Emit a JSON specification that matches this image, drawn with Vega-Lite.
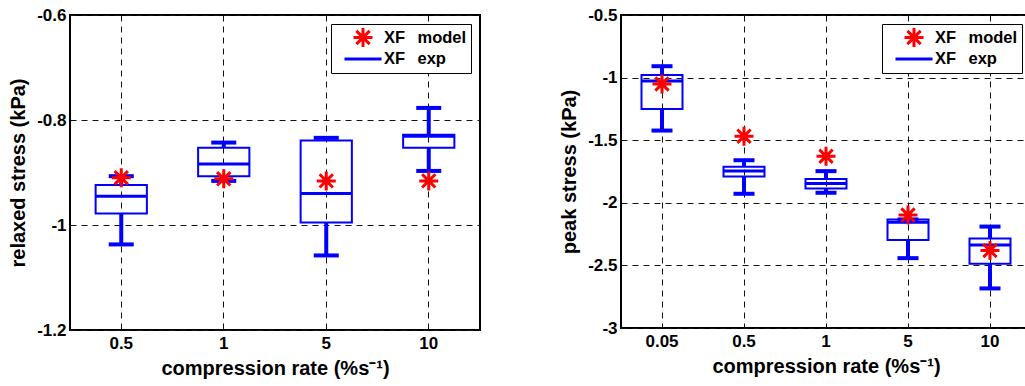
{
  "$schema": "https://vega.github.io/schema/vega-lite/v6.json",
  "background": "white",
  "padding": {"left": 7, "top": 5, "right": 0, "bottom": 0},
  "spacing": 77,
  "config": {
    "view": {"stroke": "black", "strokeWidth": 2},
    "axis": {
      "labelFont": "Liberation Sans", "labelFontWeight": "bold", "labelFontSize": 17, "labelColor": "black",
      "titleFont": "Liberation Sans", "titleFontWeight": "bold", "titleFontSize": 20, "titleColor": "black",
      "grid": true, "gridColor": "#111111", "gridDash": [6, 5], "gridWidth": 1, "gridOpacity": 1,
      "ticks": false, "domain": false
    },
    "axisX": {"labelPadding": 5, "titlePadding": 7, "labelAngle": 0, "bandPosition": 0.5},
    "axisY": {"labelPadding": 4, "titlePadding": 8, "format": "~g", "labelExpr": "replace(datum.label, '\u2212', '-')"},
    "legend": {
      "orient": "top-right", "offset": 9, "title": null,
      "labelFont": "Liberation Sans", "labelFontSize": 16.5, "labelFontWeight": "bold", "labelColor": "black",
      "symbolStrokeWidth": 3, "symbolSize": 361, "padding": 4, "rowPadding": 2.6, "clipHeight": 19,
      "labelOffset": 10, "symbolOffset": 17,
      "strokeColor": "black", "fillColor": "white"
    }
  },
  "resolve": {"scale": {"color": "independent", "shape": "independent"}, "legend": {"color": "independent", "shape": "independent"}},
  "hconcat": [
    {
      "width": 410, "height": 315,
      "data": {"values": [
        {"rate": "0.5", "wlo": -1.037, "q1": -0.978, "med": -0.945, "q3": -0.924, "whi": -0.907, "model": -0.910},
        {"rate": "1", "wlo": -0.916, "q1": -0.907, "med": -0.884, "q3": -0.853, "whi": -0.843, "model": -0.912},
        {"rate": "5", "wlo": -1.058, "q1": -0.995, "med": -0.940, "q3": -0.839, "whi": -0.834, "model": -0.916},
        {"rate": "10", "wlo": -0.897, "q1": -0.853, "med": -0.831, "q3": -0.828, "whi": -0.777, "model": -0.916}
      ]},
      "encoding": {
        "x": {"field": "rate", "type": "ordinal", "sort": ["0.5", "1", "5", "10"],
              "scale": {"type": "band", "paddingInner": 0, "paddingOuter": 0},
              "axis": {"title": "compression rate (%s\u207b\u00b9)"}}
      },
      "layer": [
        {"mark": {"type": "rule", "color": "#0000ff", "strokeWidth": 4},
         "encoding": {"y": {"field": "wlo", "type": "quantitative", "scale": {"domain": [-1.2, -0.6], "nice": false, "zero": false},
                            "axis": {"title": "relaxed stress (kPa)", "values": [-1.2, -1, -0.8, -0.6]}},
                      "y2": {"field": "q1"}}},
        {"mark": {"type": "rule", "color": "#0000ff", "strokeWidth": 4},
         "encoding": {"y": {"field": "q3", "type": "quantitative"}, "y2": {"field": "whi"}}},
        {"mark": {"type": "tick", "color": "#0000ff", "size": 25, "thickness": 4, "opacity": 1},
         "encoding": {"y": {"field": "wlo", "type": "quantitative"}}},
        {"mark": {"type": "tick", "color": "#0000ff", "size": 25, "thickness": 4, "opacity": 1},
         "encoding": {"y": {"field": "whi", "type": "quantitative"}}},
        {"mark": {"type": "bar", "fill": null, "fillOpacity": 0, "stroke": "#0000ff", "strokeWidth": 2, "width": {"band": 0.5}},
         "encoding": {"y": {"field": "q1", "type": "quantitative"}, "y2": {"field": "q3"}}},
        {"mark": {"type": "tick", "color": "#0000ff", "size": 51, "thickness": 3, "opacity": 1},
         "encoding": {"y": {"field": "med", "type": "quantitative"}}},
        {"mark": {"type": "point", "filled": false, "strokeWidth": 3, "size": 361, "opacity": 1},
         "encoding": {
           "y": {"field": "model", "type": "quantitative"},
           "shape": {"datum": "XF\u2002\u2005model", "type": "nominal",
                     "scale": {"domain": ["XF\u2002\u2005model", "XF\u2002\u2005exp"], "range": ["M-1,0L1,0M0,-1L0,1M-0.7,-0.7L0.7,0.7M-0.7,0.7L0.7,-0.7", "M-1.95,0L1.95,0"]}},
           "color": {"datum": "XF\u2002\u2005model", "type": "nominal",
                     "scale": {"domain": ["XF\u2002\u2005model", "XF\u2002\u2005exp"], "range": ["#ff0000", "#0000ff"]}}
         }}
      ]
    },
    {
      "width": 410, "height": 313,
      "data": {"values": [
        {"rate": "0.05", "wlo": -1.423, "q1": -1.250, "med": -1.027, "q3": -0.979, "whi": -0.909, "model": -1.051},
        {"rate": "0.5", "wlo": -1.928, "q1": -1.790, "med": -1.747, "q3": -1.713, "whi": -1.660, "model": -1.468},
        {"rate": "1", "wlo": -1.920, "q1": -1.886, "med": -1.846, "q3": -1.809, "whi": -1.747, "model": -1.628},
        {"rate": "5", "wlo": -2.442, "q1": -2.298, "med": -2.155, "q3": -2.133, "whi": -2.133, "model": -2.098},
        {"rate": "10", "wlo": -2.684, "q1": -2.487, "med": -2.338, "q3": -2.285, "whi": -2.190, "model": -2.381}
      ]},
      "encoding": {
        "x": {"field": "rate", "type": "ordinal", "sort": ["0.05", "0.5", "1", "5", "10"],
              "scale": {"type": "band", "paddingInner": 0, "paddingOuter": 0},
              "axis": {"title": "compression rate (%s\u207b\u00b9)"}}
      },
      "layer": [
        {"mark": {"type": "rule", "color": "#0000ff", "strokeWidth": 4},
         "encoding": {"y": {"field": "wlo", "type": "quantitative", "scale": {"domain": [-3, -0.5], "nice": false, "zero": false},
                            "axis": {"title": "peak stress (kPa)", "values": [-3, -2.5, -2, -1.5, -1, -0.5]}},
                      "y2": {"field": "q1"}}},
        {"mark": {"type": "rule", "color": "#0000ff", "strokeWidth": 4},
         "encoding": {"y": {"field": "q3", "type": "quantitative"}, "y2": {"field": "whi"}}},
        {"mark": {"type": "tick", "color": "#0000ff", "size": 21, "thickness": 4, "opacity": 1},
         "encoding": {"y": {"field": "wlo", "type": "quantitative"}}},
        {"mark": {"type": "tick", "color": "#0000ff", "size": 21, "thickness": 4, "opacity": 1},
         "encoding": {"y": {"field": "whi", "type": "quantitative"}}},
        {"mark": {"type": "bar", "fill": null, "fillOpacity": 0, "stroke": "#0000ff", "strokeWidth": 2, "width": {"band": 0.5}},
         "encoding": {"y": {"field": "q1", "type": "quantitative"}, "y2": {"field": "q3"}}},
        {"mark": {"type": "tick", "color": "#0000ff", "size": 41, "thickness": 3, "opacity": 1},
         "encoding": {"y": {"field": "med", "type": "quantitative"}}},
        {"mark": {"type": "point", "filled": false, "strokeWidth": 3, "size": 361, "opacity": 1},
         "encoding": {
           "y": {"field": "model", "type": "quantitative"},
           "shape": {"datum": "XF\u2002\u2005model", "type": "nominal",
                     "scale": {"domain": ["XF\u2002\u2005model", "XF\u2002\u2005exp"], "range": ["M-1,0L1,0M0,-1L0,1M-0.7,-0.7L0.7,0.7M-0.7,0.7L0.7,-0.7", "M-1.95,0L1.95,0"]}},
           "color": {"datum": "XF\u2002\u2005model", "type": "nominal",
                     "scale": {"domain": ["XF\u2002\u2005model", "XF\u2002\u2005exp"], "range": ["#ff0000", "#0000ff"]}}
         }}
      ]
    }
  ]
}
